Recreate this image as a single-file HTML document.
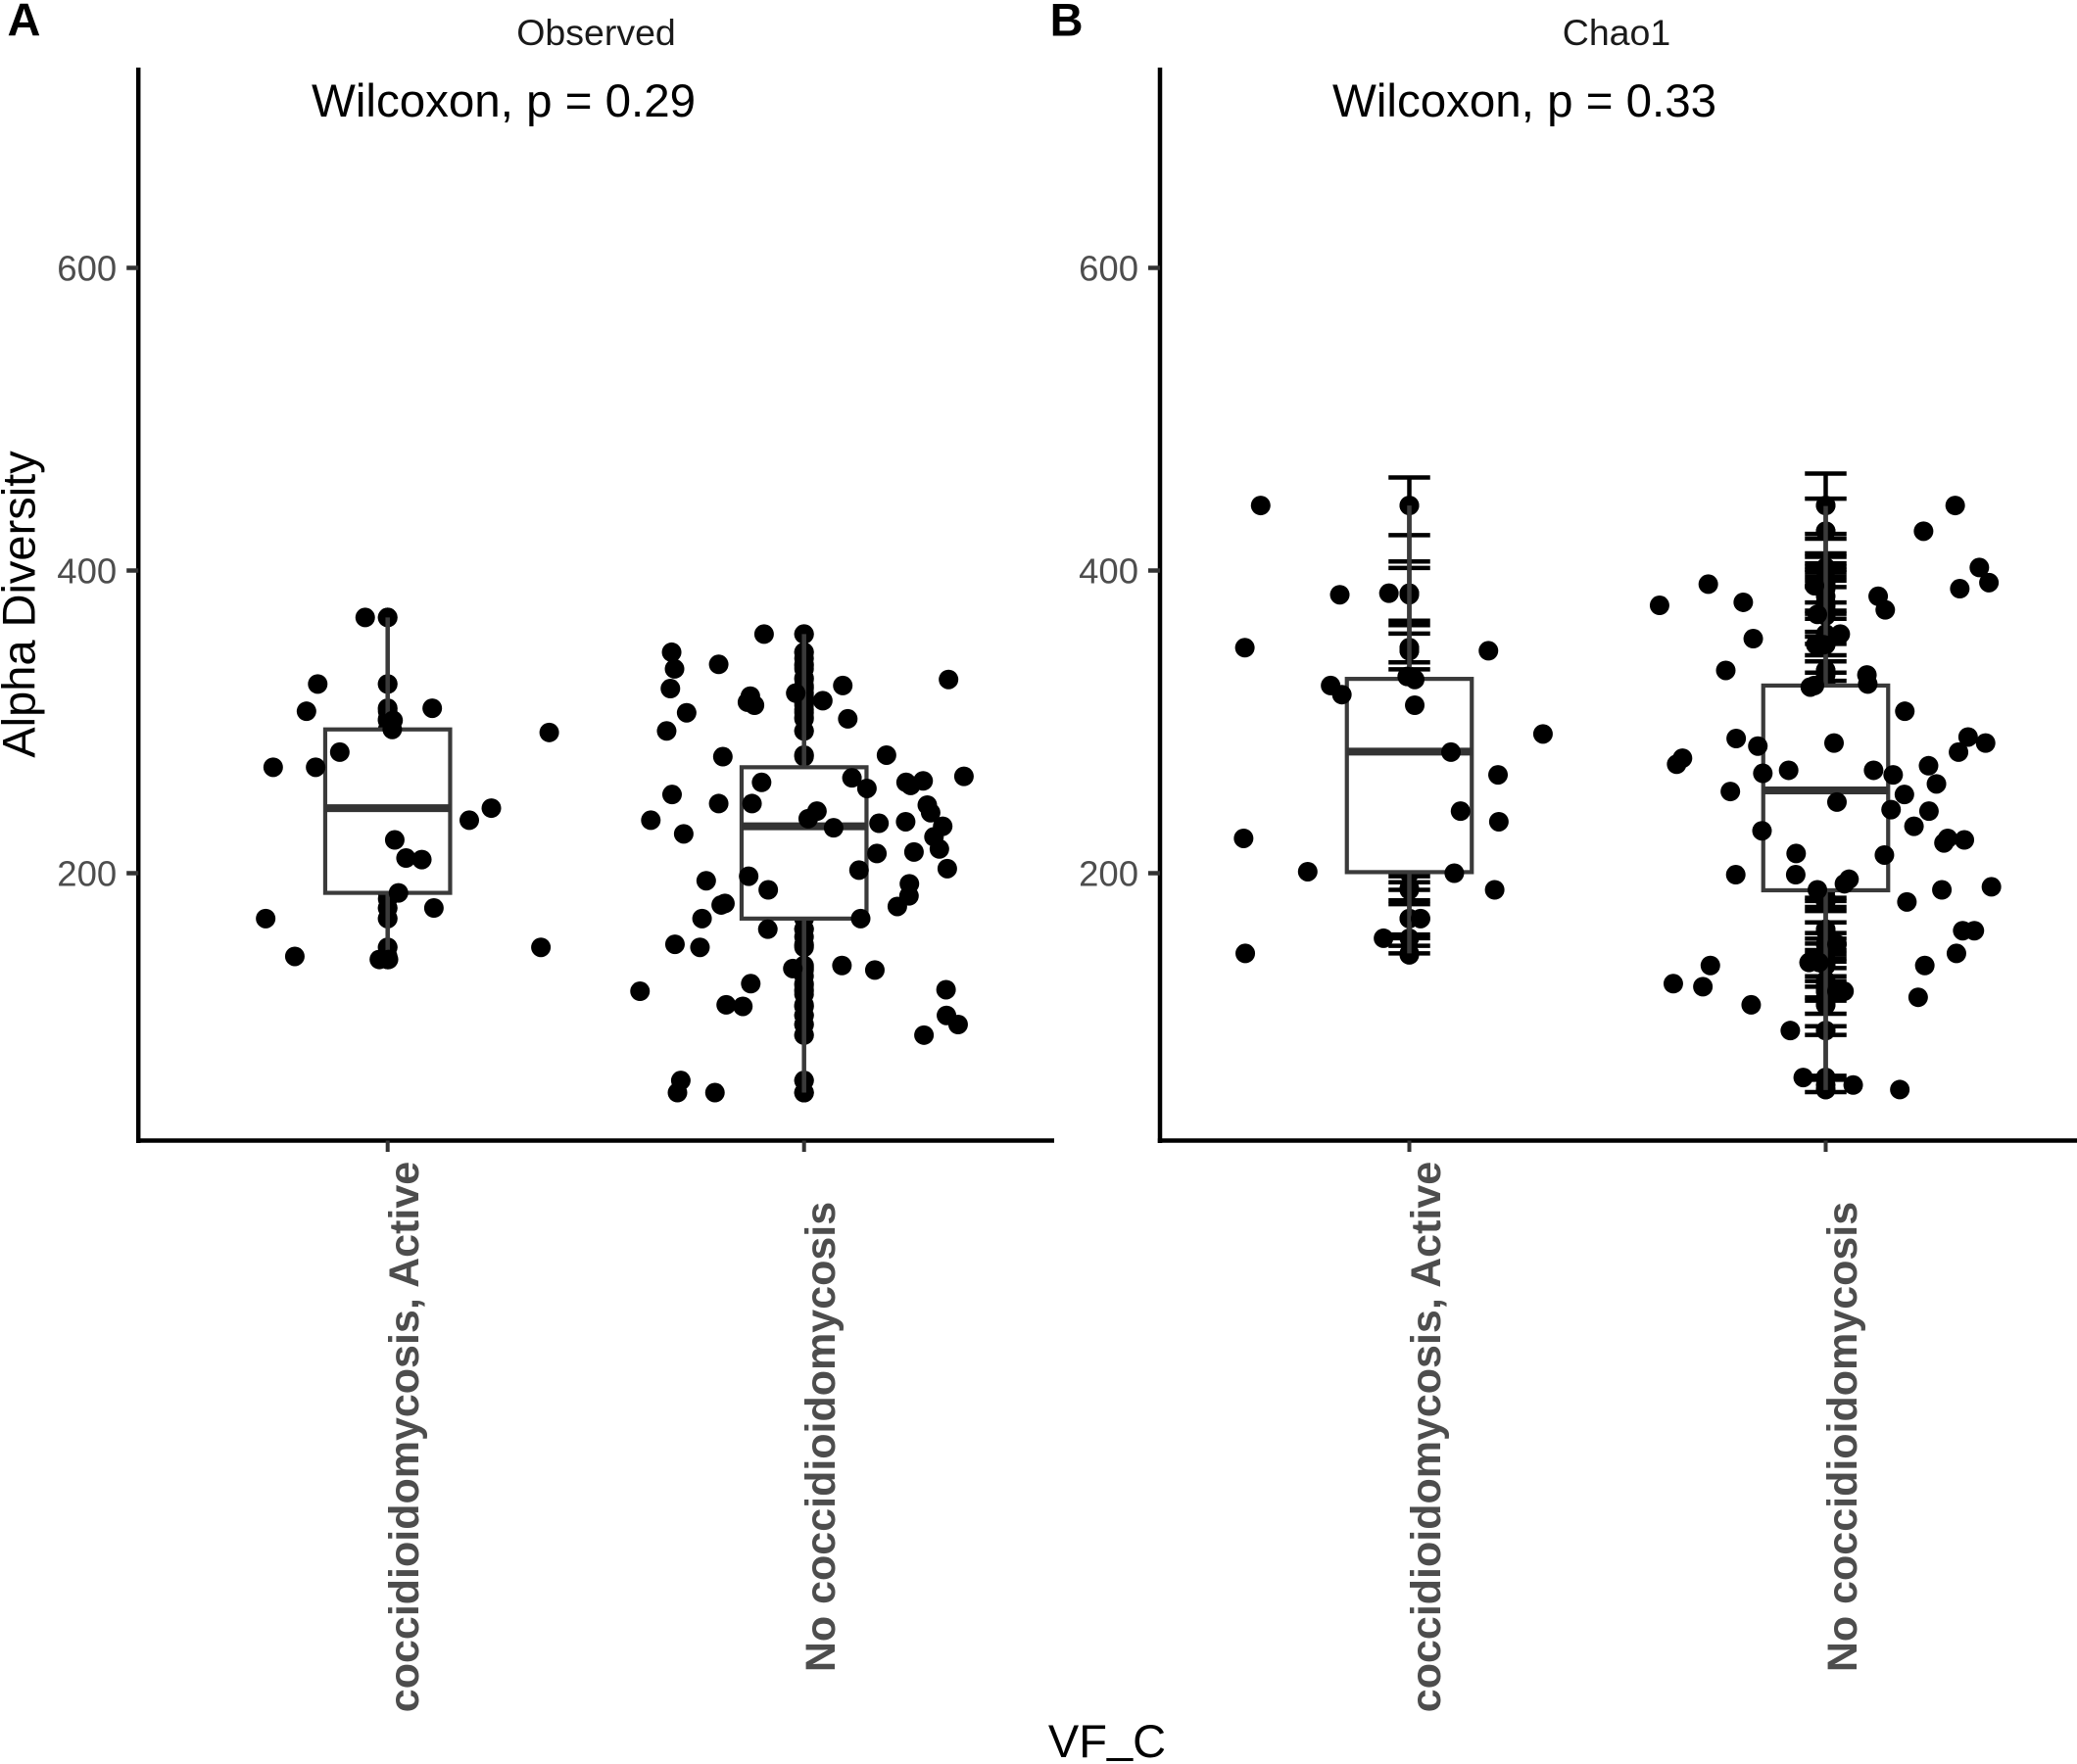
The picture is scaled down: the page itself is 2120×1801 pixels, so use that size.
<!DOCTYPE html>
<html lang="en">
<head>
<meta charset="utf-8">
<title>Alpha diversity by VF_C</title>
<style>
html,body{margin:0;padding:0;background:#fff;}
svg{display:block;font-family:"Liberation Sans",Arial,sans-serif;}
</style>
</head>
<body>
<svg id="chart" xmlns="http://www.w3.org/2000/svg" width="2120" height="1801" viewBox="0 0 2120 1801">
  <rect x="0" y="0" width="2120" height="1801" fill="#fff"/>
  <text x="7.5" y="36.5" font-size="47" font-weight="bold" fill="#000">A</text>
  <text x="1071.6" y="36.5" font-size="47" font-weight="bold" fill="#000">B</text>
  <text x="608.5" y="46" font-size="37.5" text-anchor="middle" fill="#1a1a1a">Observed</text>
  <text x="1650" y="46" font-size="37.5" text-anchor="middle" fill="#1a1a1a">Chao1</text>
  <text x="318" y="119" font-size="47.5" fill="#000">Wilcoxon, p = 0.29</text>
  <text x="1360" y="119" font-size="47.5" fill="#000">Wilcoxon, p = 0.33</text>
  <text transform="translate(35.5,617) rotate(-90)" font-size="47" text-anchor="middle" fill="#000">Alpha Diversity</text>
  <text x="1130" y="1794" font-size="47" text-anchor="middle" fill="#000">VF<tspan dy="-5.5">_</tspan><tspan dy="5.5">C</tspan></text>
  <g id="plots"></g>
</svg>
<script>
var categories = ["coccidioidomycosis, Active", "No coccidioidomycosis"];
var yTickValues = [200, 400, 600];

var observedActiveJitter = [-0.054,0,-0.168,0,0,0.107,-0.195,0,0.013,0,0.011,0.388,-0.115,-0.275,-0.173,0.249,0.196,0.017,0.044,0.082,0.026,0,0.111,0,0,-0.293,0,0.368,-0.223,-0.02,0.002];
var observedActiveValues = [369,369,325,325,309,309,307,301,301,302,295,293,280,270,270,243,235,222,210,209,187,183,177,177,170,170,151,151,145,143,143];
var observedActiveBox = [143,187,243,295,369];

var observedNoneJitter = [-0.096,0,0,-0.318,0,0,-0.311,-0.205,0.347,0,-0.321,0.093,0,-0.02,-0.129,-0.136,-0.119,0.045,0,-0.282,0.105,0,0,-0.33,0,-0.195,0,0.198,0.384,-0.102,0.115,0.151,0.245,0.256,0.286,-0.317,-0.205,-0.125,0.296,0.304,0.031,0.01,-0.368,0.18,0.244,0.071,0.333,0.312,-0.289,0.325,0.175,0.264,0.132,0.344,-0.133,-0.235,-0.086,0.253,0.252,0.224,-0.19,-0.199,-0.245,0.136,0,-0.087,0,0,-0.31,-0.25,-0.027,0,0,0.091,0.17,-0.128,0,0,-0.394,0.341,-0.187,-0.147,0,0,0,0.342,0.37,0,0.288,0,-0.296,-0.304,-0.214,0];
var observedNoneValues = [358,358,346,346,342,337,335,338,328,329,322,324,323,319,317,313,311,314,314,306,302,308,303,294,294,277,278,278,264,260,263,256,260,258,261,252,246,246,245,240,241,236,235,233,234,230,231,224,226,216,213,214,202,203,198,195,189,193,185,178,180,179,170,170,163,163,158,152,153,151,137,138,132,139,136,127,126,120,122,123,113,112,112,106,100,106,100,93,93,63,63,55,55,55];
var observedNoneBox = [55,170,231,270,358];

var chao1ActiveJitter = [-0.357,0,-0.167,-0.049,0,-0.395,0,0,0.19,-0.189,-0.162,0.013,-0.005,0.013,0.321,0.1,0.213,0.123,0.215,-0.398,-0.244,0.108,0.205,0,0,0.027,-0.062,-0.394,0];
var chao1ActiveValues = [443,443,384,385,385,349,349,347,347,324,318,328,330,311,292,280,265,241,234,223,201,200,189,190,170,170,157,147,146];
var chao1ActiveBox = [147,200.7,280.3,328.4,443];
var chao1ActiveCaps = [461.5,423.4,406,401.7,366.8,363.9,358.3,339.3,334.7,198,194,189,182,179.5,159.5,157,152,147];

var chao1NoneJitter = [0.311,0,0.235,0,0.369,0.392,0.322,-0.282,-0.198,-0.399,0.126,0.143,0,0,0,-0.027,-0.02,0,0,-0.174,0.035,0,-0.005,-0.024,-0.24,0.099,0,0.101,-0.037,-0.027,0.19,0.342,0.384,0.319,-0.215,-0.163,0.02,-0.344,-0.358,0.247,-0.151,-0.089,0.115,0.162,0.266,-0.229,0.189,0.027,0.157,0.248,0.212,-0.153,0.293,0.284,0.333,-0.071,0.141,-0.216,-0.072,0.056,0.045,-0.02,0,0.398,0.279,0.195,0,0.329,0.357,0.314,0.027,0,-0.277,-0.04,-0.016,0.238,-0.366,-0.295,0,0,0.044,0.027,0.222,-0.179,0,-0.085,0,-0.054,0,0.066,0.178,0];
var chao1NoneValues = [443,443,426,426,402,392,388,391,379,377,383,374,402,395,390,390,371,377,370,355,358,358,351,351,334,331,334,325,323,324,307,290,286,280,289,284,286,276,272,271,266,268,268,265,259,254,252,247,242,241,231,228,223,220,222,213,212,199,199,196,193,189,184,191,189,181,163,162,162,147,153,148,139,141,141,139,127,125,129,122,122,122,118,113,113,96,96,65,65,60,57,57];
var chao1NoneBox = [56.7,188.7,254.7,324,442.6];
var chao1NoneCaps = [464.1,447.5,424.2,421,411.3,409.1,404.8,402.6,400.5,399,396.2,393.4,389.1,378.9,373.5,371.4,368.1,359.5,356.3,351.5,344,340,332.5,327.1,183.7,181.6,177.7,175,167.5,160.4,156.7,153.5,149.2,146.6,143.8,141.6,137.3,131.9,128.7,125,117.9,115.8,107.1,98.9,93.1,66.1,63.5,55.3];

var SVGNS = "http://www.w3.org/2000/svg";
var root = document.getElementById("plots");

function yScale(v) { return 891.5 + (200 - v) * 1.545; }
function xScale(panelLeft, cat, jitter) { return panelLeft + 254.5 + (cat + jitter) * 425; }

function make(parent, tag, attrs) {
  var el = document.createElementNS(SVGNS, tag);
  for (var k in attrs) { el.setAttribute(k, attrs[k]); }
  parent.appendChild(el);
  return el;
}

function drawCentred(group, left, cat, values) {
  for (var i = 0; i < values.length; i++) {
    var dot = make(group, "circle", { cx: xScale(left, cat, 0), cy: yScale(values[i]), r: 10, fill: "#000" });
    
    
  }
}

function drawJittered(group, left, cat, jitter, values) {
  for (var i = 0; i < values.length; i++) {
    if (jitter[i] === 0) { continue; }
    var dot = make(group, "circle", { cx: xScale(left, cat, jitter[i]), cy: yScale(values[i]), r: 10, fill: "#000" });
    
    
  }
}

function drawCaps(group, left, cat, caps) {
  var cx = xScale(left, cat, 0);
  var top = Math.max.apply(null, caps), bottom = Math.min.apply(null, caps);
  var stem = make(group, "line", { x1: cx, x2: cx, y1: yScale(top), y2: yScale(bottom), stroke: "#000", "stroke-width": 4.5 });
  
  
  for (var i = 0; i < caps.length; i++) {
    var cap = make(group, "line", { x1: xScale(left, cat, -0.05), x2: xScale(left, cat, 0.05), y1: yScale(caps[i]), y2: yScale(caps[i]), stroke: "#000", "stroke-width": 4.5 });
    
    
  }
}

function drawBox(group, left, cat, stats) {
  var cx = xScale(left, cat, 0);
  var x0 = xScale(left, cat, -0.15), x1 = xScale(left, cat, 0.15);
  var whiskTop = make(group, "line", { x1: cx, x2: cx, y1: yScale(stats[4]), y2: yScale(stats[3]), stroke: "#3a3a3a", "stroke-width": 4.5 });
  
  
  var whiskBottom = make(group, "line", { x1: cx, x2: cx, y1: yScale(stats[1]), y2: yScale(stats[0]), stroke: "#3a3a3a", "stroke-width": 4.5 });
  
  
  var rect = make(group, "rect", { x: x0, y: yScale(stats[3]), width: x1 - x0, height: yScale(stats[1]) - yScale(stats[3]), fill: "#fff", stroke: "#3a3a3a", "stroke-width": 4.2 });
  
  
  var med = make(group, "line", { x1: x0, x2: x1, y1: yScale(stats[2]), y2: yScale(stats[2]), stroke: "#333", "stroke-width": 8 });
  
  
}

function drawAxes(group, left, right) {
  var yAxis = make(group, "line", { x1: left, x2: left, y1: 69, y2: 1167, stroke: "#000", "stroke-width": 4.5 });
  
  
  var xAxis = make(group, "line", { x1: left - 2.2, x2: right, y1: 1164.5, y2: 1164.5, stroke: "#000", "stroke-width": 4.5 });
  
  
  yTickValues.forEach(function (v) {
    var t = make(group, "line", { x1: left - 12, x2: left, y1: yScale(v), y2: yScale(v), stroke: "#333", "stroke-width": 4.5 });
    
    
    var lab = make(group, "text", { x: left - 22, y: yScale(v) + 13, "font-size": 36.5, "text-anchor": "end", fill: "#4d4d4d" });
    
    
    lab.textContent = v;
  });
  categories.forEach(function (c, i) {
    var x = xScale(left, i, 0);
    var t = make(group, "line", { x1: x, x2: x, y1: 1164.5, y2: 1176, stroke: "#333", "stroke-width": 4 });
    
    
    var lab = make(group, "text", { transform: "translate(" + (x + 31.3) + ",1467) rotate(-90)", "font-size": 43, "font-weight": "bold", "text-anchor": "middle", fill: "#4d4d4d" });
    
    
    lab.textContent = c;
  });
}

function drawPanel(name, left, right, series) {
  var group = make(root, "g", {});
  
  
  series.forEach(function (s, i) { drawCentred(group, left, i, s.values); });
  series.forEach(function (s, i) { if (s.caps) { drawCaps(group, left, i, s.caps); } });
  series.forEach(function (s, i) { drawBox(group, left, i, s.box); });
  series.forEach(function (s, i) { drawJittered(group, left, i, s.jitter, s.values); });
  drawAxes(group, left, right);
}

drawPanel("observed-panel", 141.2, 1076, [
  { jitter: observedActiveJitter, values: observedActiveValues, box: observedActiveBox },
  { jitter: observedNoneJitter, values: observedNoneValues, box: observedNoneBox }
]);
drawPanel("chao1-panel", 1184, 2120, [
  { jitter: chao1ActiveJitter, values: chao1ActiveValues, box: chao1ActiveBox, caps: chao1ActiveCaps },
  { jitter: chao1NoneJitter, values: chao1NoneValues, box: chao1NoneBox, caps: chao1NoneCaps }
]);
</script>
</body>
</html>
